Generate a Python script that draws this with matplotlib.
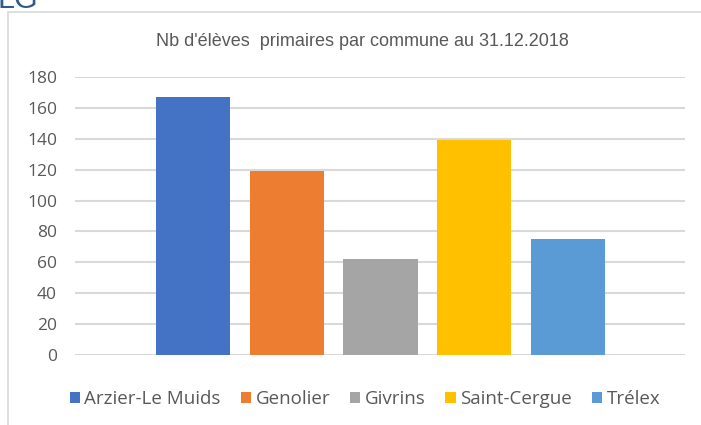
import matplotlib
matplotlib.use("Agg")
import matplotlib.pyplot as plt
from matplotlib.patches import Rectangle

# data
communes = ["Arzier-Le Muids", "Genolier", "Givrins", "Saint-Cergue", "Trélex"]
eleves = [167, 119, 62, 139, 75]
couleurs = ["#4472C4", "#ED7D31", "#A5A5A5", "#FFC000", "#5B9BD5"]
yticks = [0, 20, 40, 60, 80, 100, 120, 140, 160, 180]
titre = "Nb d'élèves  primaires par commune au 31.12.2018"

W, H = 701, 425
gris = "#595959"

fig = plt.figure(figsize=(W / 100, H / 100), dpi=100)

# chart frame (runs off right and bottom of the screenshot)
fig.patches.append(Rectangle((8 / W, -0.1), 1.2, 1 - 12 / H + 0.1,
                             transform=fig.transFigure, fill=False,
                             edgecolor="#D9D9D9", linewidth=1.2))

# clipped heading fragment in the top-left corner
fig.text(-2 / W, 1 - 8 / H, "LG", fontsize=22, color="#2E5B8A",
         family="Liberation Sans", va="baseline", ha="left")

ax = fig.add_axes([75 / W, 1 - 355 / H, (685 - 75) / W, (355 - 77) / H])

for i, (nom, val, c) in enumerate(zip(communes, eleves, couleurs)):
    ax.bar(i, val, width=0.79, color=c, label=nom, zorder=3)

ax.set_xlim(-1.255, 5.245)
ax.set_ylim(0, 180)
ax.set_yticks(yticks)
ax.set_xticks([])
ax.yaxis.grid(True, color="#D9D9D9", linewidth=1.5, zorder=0)
ax.set_axisbelow(True)
for s in ["top", "right", "left", "bottom"]:
    ax.spines[s].set_visible(False)
ax.tick_params(axis="y", length=0, pad=13, labelcolor=gris)
for lab in ax.get_yticklabels():
    lab.set_family("Open Sans")
    lab.set_fontsize(12.5)

fig.text(362 / W, 1 - 42 / H, titre, ha="center", va="center",
         fontsize=13, color=gris, family="Liberation Sans")

leg = fig.legend(loc="center", bbox_to_anchor=(365 / W, 1 - 399 / H),
                 ncol=5, frameon=False, handlelength=0.55, handleheight=0.55,
                 handletextpad=0.25, columnspacing=1.05,
                 prop={"family": "Open Sans", "size": 13.5})
for t in leg.get_texts():
    t.set_color(gris)

fig.savefig("out.png", dpi=100)
